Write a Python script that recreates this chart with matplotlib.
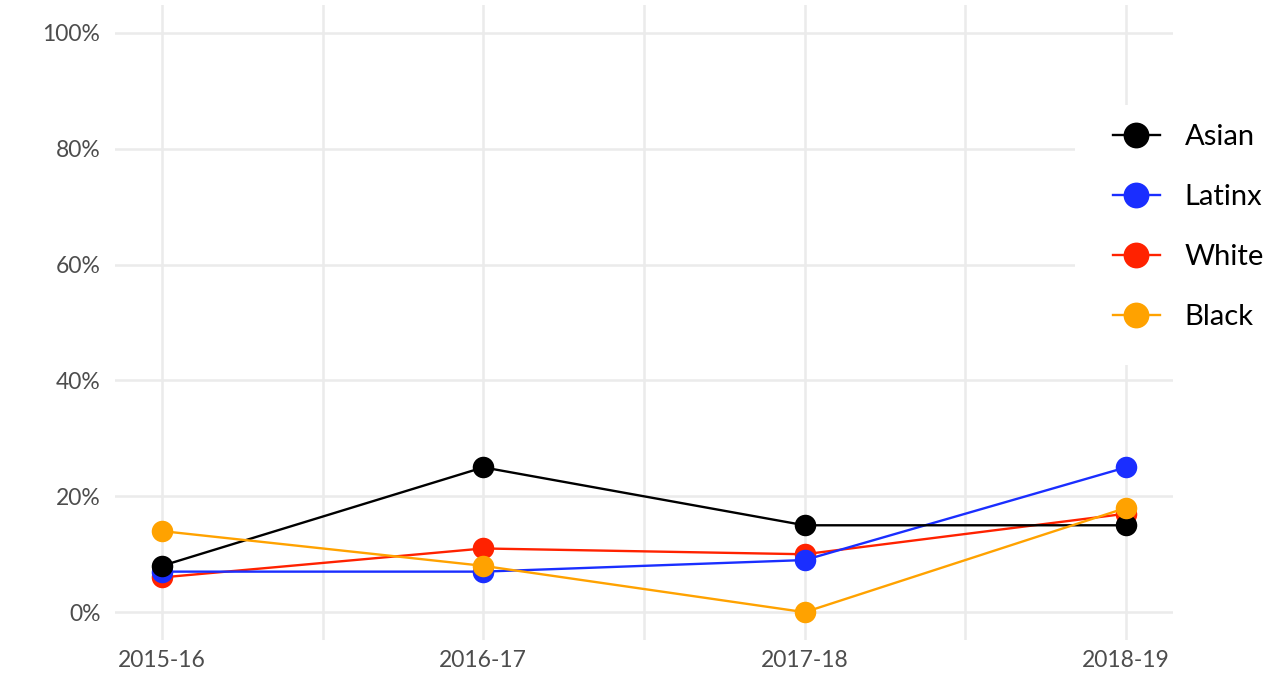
import matplotlib
matplotlib.use("Agg")
import matplotlib.pyplot as plt
from matplotlib.ticker import FuncFormatter, FixedLocator
from matplotlib.patches import Rectangle

plt.rcParams['font.family'] = ['Lato', 'DejaVu Sans']

years = ['2015-16', '2016-17', '2017-18', '2018-19']
asian = [8, 25, 15, 15]
latinx = [7, 7, 9, 25]
white = [6, 11, 10, 17]
black = [14, 8, 0, 18]

series = [
    ('Asian', asian, '#000000', 4),
    ('Latinx', latinx, '#1a2eff', 3),
    ('White', white, '#ff2200', 2),
    ('Black', black, '#ffa200', 5),
]

W, H = 1278, 674
fig = plt.figure(figsize=(W / 100, H / 100), dpi=100)
ax = fig.add_axes([115 / W, 1 - 640 / H, (1173 - 115) / W, (640 - 5) / H])

x = list(range(len(years)))
handles = []
for name, vals, col, z in series:
    h, = ax.plot(x, vals, color=col, lw=1.7, marker='o', ms=15.5,
                 markeredgewidth=0, label=name, zorder=z)
    handles.append(h)

ax.set_xlim(-0.146, 3.146)
ax.set_ylim(-4.8, 104.8)
ax.set_xticks(x)
ax.set_xticklabels(years)
ax.xaxis.set_minor_locator(FixedLocator([0.5, 1.5, 2.5]))
ax.set_yticks([0, 20, 40, 60, 80, 100])
ax.yaxis.set_major_formatter(FuncFormatter(lambda v, p: f'{int(v)}%'))

ax.grid(True, which='major', color='#ebebeb', lw=1.8, zorder=0)
ax.grid(True, which='minor', axis='x', color='#ebebeb', lw=1.8, zorder=0)
ax.set_axisbelow(True)
for s in ax.spines.values():
    s.set_visible(False)
ax.tick_params(which='both', length=0, labelsize=16.5, labelcolor='#4d4d4d')
ax.tick_params(axis='x', pad=7)
ax.tick_params(axis='y', pad=10.5)

# white legend background over the panel
bg = Rectangle((1075 / W, 1 - 365 / H), (W - 1075) / W, (365 - 105) / H,
               transform=fig.transFigure, facecolor='white', edgecolor='none', zorder=9)
fig.add_artist(bg)

leg = fig.legend(handles=handles, loc='upper left',
                 bbox_to_anchor=(1113 / W, 1 - 124 / H), bbox_transform=fig.transFigure,
                 frameon=False, fontsize=21, handlelength=1.6, handletextpad=0.85,
                 labelspacing=1.17, borderpad=0, borderaxespad=0, markerscale=1.2)
leg.set_zorder(10)

fig.savefig('out.png', dpi=100)
